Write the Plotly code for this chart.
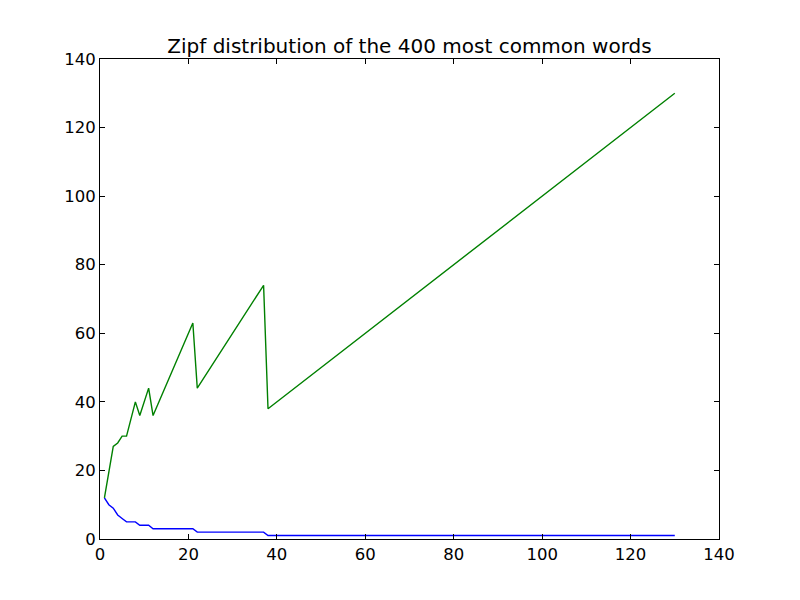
import plotly.graph_objects as go

# Breakpoints of the two series (straight segments between them)
x_values = [1, 2, 3, 4, 5, 6, 8, 9, 11, 12, 21, 22, 37, 38, 130]
blue_values = [12, 10, 9, 7, 6, 5, 5, 4, 4, 3, 3, 2, 2, 1, 1]
green_values = [12, 20, 27, 28, 30, 30, 40, 36, 44, 36, 63, 44, 74, 38, 130]

tick_vals = [0, 20, 40, 60, 80, 100, 120, 140]
tick_text = ["0", "20", "40", "60", "80", "100", "120", "140"]

title_text = "Zipf distribution of the 400 most common words"

fig = go.Figure()
fig.add_trace(go.Scatter(x=x_values, y=blue_values, mode="lines",
                         line=dict(color="#0000ff", width=1.4), showlegend=False))
fig.add_trace(go.Scatter(x=x_values, y=green_values, mode="lines",
                         line=dict(color="#008000", width=1.4), showlegend=False))

axis_common = dict(
    range=[0, 140], showgrid=False, zeroline=False,
    showline=True, linecolor="black", linewidth=1,
    mirror="allticks", ticks="inside", ticklen=5, tickwidth=1, tickcolor="black",
    tickmode="array", tickvals=tick_vals, ticktext=tick_text,
    tickfont=dict(family="DejaVu Sans", size=16.5, color="black"),
)

fig.update_layout(
    width=800, height=600,
    margin=dict(l=92, r=89, t=51, b=69),
    paper_bgcolor="white", plot_bgcolor="white",
    title=dict(text=title_text, x=0.5, xref="paper", xanchor="center",
               y=1 - 38 / 600, yref="container", yanchor="middle",
               font=dict(family="DejaVu Sans", size=20, color="black")),
    xaxis=dict(**axis_common),
    yaxis=dict(**axis_common),
)

fig.write_html("out.html")
